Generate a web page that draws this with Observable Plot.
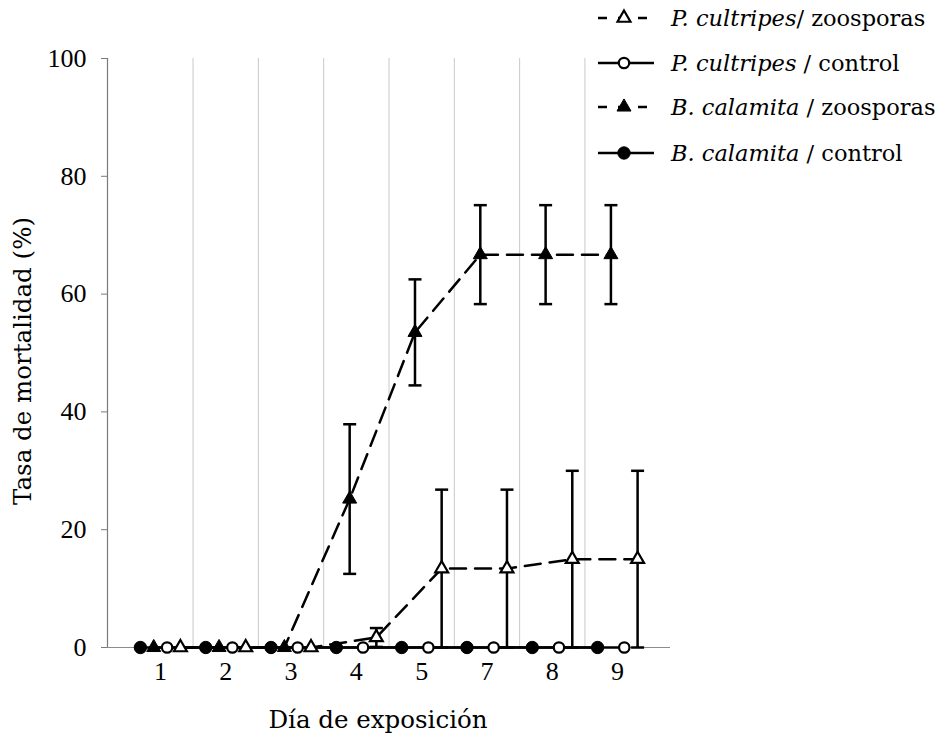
<!DOCTYPE html>
<html>
<head>
<meta charset="utf-8">
<script src="https://cdn.jsdelivr.net/npm/d3@7"></script>
<script src="https://cdn.jsdelivr.net/npm/@observablehq/plot@0.6"></script>
<style>
  body { margin: 0; background: #fff; }
  #wrap { position: relative; width: 947px; height: 739px; font-family: "DejaVu Serif", serif; color: #000; overflow: hidden; }
  #legend { position: absolute; left: 0; top: 0; }
  .lrow { position: absolute; left: 598px; display: flex; align-items: center; height: 28px; white-space: nowrap; font-size: 22.5px; }
  .lrow svg { display: block; margin-right: 17px; }
</style>
</head>
<body>
<div id="wrap"><div id="chart"></div><div id="legend"></div></div>
<script>
// ---- Data ----
const days = ["1", "2", "3", "4", "5", "7", "8", "9"];
const bcControl = [0, 0, 0, 0, 0, 0, 0, 0];
const pcControl = [0, 0, 0, 0, 0, 0, 0, 0];
const bcZoo     = [0, 0, 0, 25.2, 53.5, 66.7, 66.7, 66.7];
const bcZooErr  = [0, 0, 0, 12.7, 9.0, 8.4, 8.4, 8.4];
const pcZoo     = [0, 0, 0, 1.7, 13.4, 13.4, 15.0, 15.0];
const pcZooErr  = [0, 0, 0, 1.6, 13.4, 13.4, 15.0, 15.0];
const yTicks = [0, 20, 40, 60, 80, 100];
const xLabel = "Día de exposición";
const yLabel = "Tasa de mortalidad (%)";

// ---- Series styles ----
const series = [
  {key: "bcControl", values: bcControl, err: null,     symbol: "circle",   fill: "black", stroke: "black", sw: 1,   r: 6.2, dash: null,   dx: -20,
   label: "<i>B. calamita</i> / control"},
  {key: "bcZoo",     values: bcZoo,     err: bcZooErr, symbol: "triangle", fill: "black", stroke: "black", sw: 1,   r: 5.2, dash: "16,9", dx: -6.67,
   label: "<i>B. calamita</i> / zoosporas"},
  {key: "pcControl", values: pcControl, err: null,     symbol: "circle",   fill: "white", stroke: "black", sw: 2.2, r: 5.2, dash: null,   dx: 6.67,
   label: "<i>P. cultripes</i> / control"},
  {key: "pcZoo",     values: pcZoo,     err: pcZooErr, symbol: "triangle", fill: "white", stroke: "black", sw: 2.2, r: 4.8, dash: "16,9", dx: 20,
   label: "<i>P. cultripes</i>/ zoosporas"}
];
const legendOrder = ["pcZoo", "pcControl", "bcZoo", "bcControl"];

const rowsOf = s => s.values.map((v, i) => {
  const e = s.err ? s.err[i] : 0;
  return {i, value: v, err: e, lo: Math.max(0, v - e), hi: v + e};
});

const cap = {draw(ctx) { ctx.moveTo(-6.5, 0); ctx.lineTo(6.5, 0); }};
const FONT = "DejaVu Serif";
const TICKFONT = "Liberation Serif";
const FS = 24.5;
const TFS = 26;
const xDomain = [-0.81, days.length - 1 + 0.81];

const marks = [];
// vertical gridlines between categories
marks.push(Plot.ruleX(days.slice(1).map((d, k) => k + 0.5), {stroke: "#c8c8c8", strokeWidth: 1}));
// axis lines
marks.push(Plot.ruleY([0], {stroke: "#8c8c8c", strokeWidth: 1.2}));
marks.push(Plot.ruleX([xDomain[0]], {stroke: "#7a7a7a", strokeWidth: 1.2}));
// series lines
for (const s of series) {
  marks.push(Plot.line(rowsOf(s), {x: "i", y: "value", dx: s.dx, stroke: "black", strokeWidth: 2.5,
    strokeDasharray: s.dash || undefined, curve: "linear"}));
}
// error bars
for (const s of series.filter(s => s.err)) {
  const rows = rowsOf(s).filter(d => d.err > 0);
  marks.push(Plot.ruleX(rows, {x: "i", y1: "lo", y2: "hi", dx: s.dx, stroke: "black", strokeWidth: 2.5}));
  marks.push(Plot.dot(rows, {x: "i", y: "hi", dx: s.dx, symbol: cap, stroke: "black", strokeWidth: 2.5, fill: "none", r: 5}));
  marks.push(Plot.dot(rows, {x: "i", y: "lo", dx: s.dx, symbol: cap, stroke: "black", strokeWidth: 2.5, fill: "none", r: 5}));
}
// markers
for (const s of series) {
  marks.push(Plot.dot(rowsOf(s), {x: "i", y: "value", dx: s.dx, symbol: s.symbol, r: s.r,
    fill: s.fill, stroke: s.stroke, strokeWidth: s.sw}));
}
// axes
marks.push(Plot.axisY({ticks: yTicks, tickSize: 6, tickPadding: 15, stroke: "#7a7a7a", fontSize: TFS, fontFamily: TICKFONT, label: null}));
marks.push(Plot.axisX({ticks: d3.range(days.length), tickFormat: i => days[i], tickSize: 0, tickPadding: 14, fontSize: TFS, fontFamily: TICKFONT, label: null}));
// axis titles
marks.push(Plot.text([xLabel], {text: d => d, frameAnchor: "bottom", dy: 73, dx: -11, fontSize: FS, lineAnchor: "middle", textAnchor: "middle"}));
marks.push(Plot.text([yLabel], {text: d => d, frameAnchor: "left", rotate: -90, dx: -84, dy: 8, fontSize: FS, lineAnchor: "middle", textAnchor: "middle"}));

const chart = Plot.plot({
  width: 947,
  height: 739,
  marginLeft: 107,
  marginRight: 277,
  marginTop: 58,
  marginBottom: 92,
  style: {fontFamily: FONT, fontSize: FS + "px", background: "white", color: "black", overflow: "visible"},
  x: {type: "linear", domain: xDomain},
  y: {domain: [0, 100]},
  marks
});
document.getElementById("chart").appendChild(chart);

// ---- Legend ----
const legend = d3.select("#legend");
const rowTops = [18, 63, 107, 153];
legendOrder.forEach((key, k) => {
  const s = series.find(d => d.key === key);
  const row = legend.append("div").attr("class", "lrow").style("top", (rowTops[k] - 14) + "px");
  const svg = row.append("svg").attr("width", 56).attr("height", 28);
  svg.append("line").attr("x1", 0).attr("x2", 56).attr("y1", 14).attr("y2", 14)
    .attr("stroke", "black").attr("stroke-width", 2.5)
    .attr("stroke-dasharray", s.dash ? "9,11" : null);
  const sym = s.symbol === "circle" ? d3.symbolCircle : d3.symbolTriangle;
  svg.append("path").attr("transform", "translate(26,14)")
    .attr("d", d3.symbol(sym, Math.PI * s.r * s.r)())
    .attr("fill", s.fill).attr("stroke", s.stroke).attr("stroke-width", s.sw);
  row.append("span").html(s.label);
});
</script>
</body>
</html>
